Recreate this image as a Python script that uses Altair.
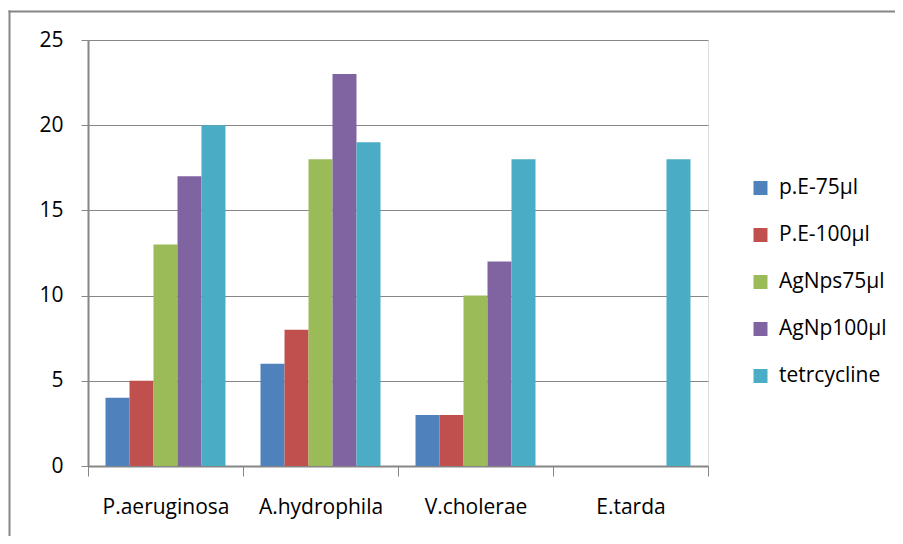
import altair as alt
import pandas as pd

categories = ["P.aeruginosa", "A.hydrophila", "V.cholerae", "E.tarda"]
series = ["p.E-75µl", "P.E-100µl", "AgNps75µl", "AgNp100µl", "tetrcycline"]
colors = ["#4F81BD", "#C0504D", "#9BBB59", "#8064A2", "#4BACC6"]
values = {
    "p.E-75µl": [4, 6, 3, 0],
    "P.E-100µl": [5, 8, 3, 0],
    "AgNps75µl": [13, 18, 10, 0],
    "AgNp100µl": [17, 23, 12, 0],
    "tetrcycline": [20, 19, 18, 18],
}

rows = []
for s in series:
    for c, v in zip(categories, values[s]):
        rows.append({"organism": c, "series": s, "value": v})
df = pd.DataFrame(rows)

FONT = "Open Sans"
GRAY = "#868686"

bars = alt.Chart(df).mark_bar().encode(
    x=alt.X("organism:N", sort=categories,
            scale=alt.Scale(paddingInner=0, paddingOuter=0),
            axis=alt.Axis(title=None, labelAngle=0, tickBand="extent",
                          domainColor=GRAY, domainWidth=2, tickColor=GRAY,
                          tickSize=10, tickWidth=1, labelPadding=20,
                          labelFontSize=21, labelColor="black", labelFont=FONT,
                          grid=False)),
    xOffset=alt.XOffset("series:N", sort=series,
                        scale=alt.Scale(paddingInner=0, paddingOuter=0.73)),
    y=alt.Y("value:Q", scale=alt.Scale(domain=[0, 25], nice=False),
            axis=alt.Axis(title=None, values=[0, 5, 10, 15, 20, 25],
                          domainColor=GRAY, domainWidth=2, tickColor=GRAY,
                          tickSize=7, labelPadding=18, labelFontSize=21,
                          labelColor="black", labelFont=FONT,
                          gridColor=GRAY, gridWidth=1)),
    color=alt.Color("series:N", sort=series,
                    scale=alt.Scale(domain=series, range=colors),
                    legend=alt.Legend(title=None, orient="none", legendX=662,
                                      legendY=137.5, symbolType="square",
                                      symbolSize=196, symbolStrokeWidth=0,
                                      labelFontSize=21, labelFont=FONT,
                                      labelColor="black", labelOffset=8,
                                      rowPadding=25, padding=0)),
)

frame_df = pd.DataFrame({"b": [0]})
left_edge = alt.Chart(frame_df).mark_rule(color=GRAY, strokeWidth=2).encode(
    x=alt.value(-78.5), y=alt.value(-29.5), y2=alt.value(700)
)
top_edge = alt.Chart(frame_df).mark_rule(color=GRAY, strokeWidth=2).encode(
    x=alt.value(-79.5), x2=alt.value(807), y=alt.value(-28.5)
)

chart = alt.layer(left_edge, top_edge, bars).properties(
    width=620, height=426,
    autosize=alt.AutoSizeParams(type="none"),
    padding={"left": 80, "top": 32, "right": 187, "bottom": 70},
).configure_view(stroke=None).configure(background="white")

chart.save("out.html", embed_options={"renderer": "svg", "actions": False})
